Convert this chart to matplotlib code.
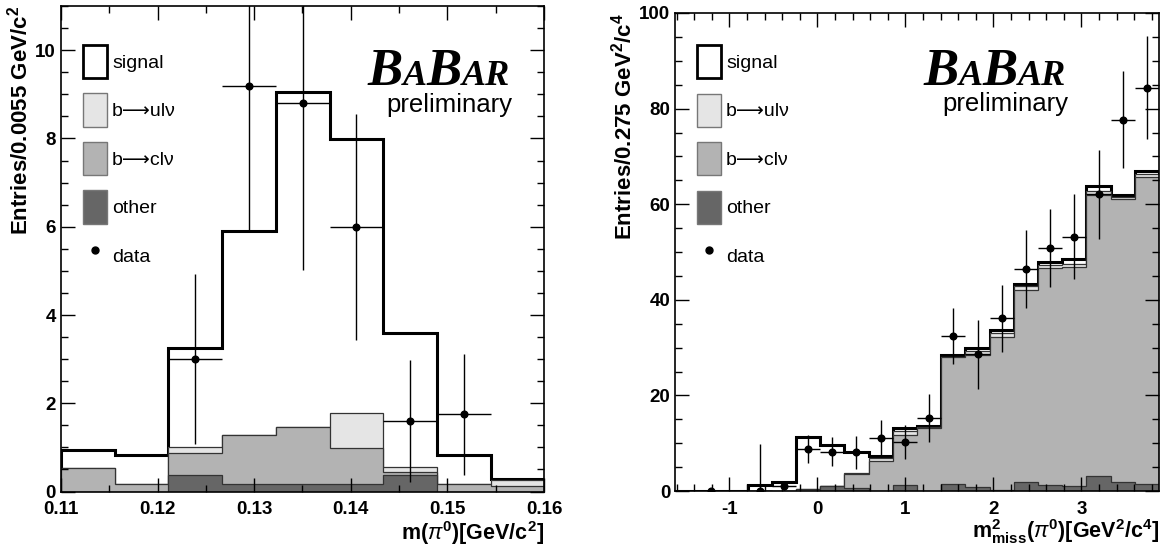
import numpy as np
import matplotlib.pyplot as plt
from matplotlib.ticker import MultipleLocator, FormatStrFormatter
from matplotlib.patches import Patch
from matplotlib.lines import Line2D
from matplotlib.offsetbox import TextArea, HPacker, AnchoredOffsetbox

plt.rcParams['font.family'] = ['Liberation Sans', 'DejaVu Sans']
plt.rcParams['mathtext.fontset'] = 'custom'
plt.rcParams['mathtext.rm'] = 'Liberation Sans'
plt.rcParams['mathtext.it'] = 'Liberation Sans:italic'
plt.rcParams['mathtext.bf'] = 'Liberation Sans:bold'
plt.rcParams['axes.unicode_minus'] = False

# left panel: m(pi0), stacked histogram tops (other < b->clv < b->ulv < signal)
left_edges = [0.11, 0.11556, 0.12112, 0.12668, 0.13224, 0.1378, 0.14336, 0.14892, 0.15448, 0.16004, 0.1656]
left_signal = [0.94, 0.83, 3.25, 5.91, 9.06, 7.99, 3.60, 0.83, 0.28, 0.28]
left_ulv = [0.54, 0.17, 1.00, 1.27, 1.46, 1.77, 0.56, 0.17, 0.27, 0.27]
left_clv = [0.54, 0.17, 0.87, 1.27, 1.46, 0.98, 0.45, 0.17, 0.13, 0.13]
left_other = [0, 0, 0.38, 0.18, 0.18, 0.18, 0.37, 0, 0, 0]
left_data_bins = [2, 3, 4, 5, 6, 7]
left_data = [3.0, 9.2, 8.8, 6.0, 1.6, 1.75]
left_err = [1.92, 3.3, 3.77, 2.56, 1.39, 1.37]

# right panel: m2_miss(pi0)
right_edges = list(np.round(-1.619 + 0.275 * np.arange(21), 3))
right_signal = [0, 0, 0, 1.25, 1.94, 11.3, 9.7, 8.1, 7.3, 13.2, 13.5, 28.4, 29.9, 33.7, 43.3, 47.9, 48.5, 63.8, 62.0, 67.0]
right_ulv = [0, 0, 0, 0, 0, 0.35, 1.1, 3.7, 7.0, 12.6, 13.3, 28.1, 29.3, 33.0, 42.8, 47.2, 47.5, 62.8, 61.5, 66.3]
right_clv = [0, 0, 0, 0, 0, 0.35, 1.1, 3.5, 6.25, 11.8, 13.1, 28.0, 28.4, 32.2, 42.0, 46.7, 46.9, 62.0, 61.0, 65.7]
right_other = [0, 0, 0, 0, 0, 0.1, 1.0, 0.7, 0, 1.2, 0, 1.5, 0.8, 0.2, 1.8, 1.2, 1.0, 3.1, 1.8, 1.5]
right_data_bins = [1, 3, 4, 5, 6, 7, 8, 9, 10, 11, 12, 13, 14, 15, 16, 17, 18, 19]
right_data = [0, 0, 1.04, 8.8, 8.2, 8.1, 11.0, 10.25, 15.3, 32.4, 28.6, 36.1, 46.4, 50.8, 53.2, 62.1, 77.7, 84.4]
right_err_lo = [0, 0, 1.0, 3.0, 3.0, 3.5, 3.9, 3.6, 5.1, 5.9, 7.2, 7.0, 8.1, 8.1, 8.9, 9.3, 10.2, 10.7]
right_err_hi = [0, 9.9, 1.0, 3.0, 3.0, 3.5, 3.9, 3.6, 5.1, 5.9, 7.2, 7.0, 8.1, 8.1, 8.9, 9.3, 10.2, 10.7]

labels = ['signal', 'b\u27f6ul\u03bd', 'b\u27f6cl\u03bd', 'other', 'data']
fills = ['white', '#e5e5e5', '#b3b3b3', '#666666']
edgec = ['black', '#333333', '#333333', '#333333']


def draw_panel(ax, edges, stack, data_bins, data, err_lo, err_hi):
    edges = np.array(edges)
    for i, vals in enumerate(stack):
        ax.stairs(vals, edges, fill=True, facecolor=fills[i], edgecolor='none')
        ax.stairs(vals, edges, color=edgec[i], lw=2.2 if i == 0 else 0.9)
    centers = 0.5 * (edges[:-1] + edges[1:])
    half = 0.5 * (edges[1:] - edges[:-1])
    b = np.array(data_bins)
    ax.errorbar(centers[b], data, yerr=[err_lo, err_hi], xerr=half[b], fmt='o',
                color='black', ms=4.8, elinewidth=1.0, capsize=0, zorder=5)
    for s in ax.spines.values():
        s.set_linewidth(1.2)
    ax.tick_params(which='both', direction='in', top=True, right=True, width=1.0,
                   labelsize=13.5)
    ax.tick_params(which='major', length=10)
    ax.tick_params(which='minor', length=5)
    ax.tick_params(axis='x', pad=7)

    handles = [Patch(facecolor=fills[0], edgecolor='black', lw=2.0)]
    handles += [Patch(facecolor=fills[i], edgecolor='#777777', lw=1.0) for i in (1, 2, 3)]
    handles.append(Line2D([], [], ls='none', marker='o', color='black', ms=5))
    return handles


def add_legend(ax, handles, x, y):
    ax.legend(handles, labels, loc='upper left', bbox_to_anchor=(x, y), frameon=False,
              fontsize=14, handlelength=1.23, handleheight=2.26, labelspacing=0.78,
              handletextpad=0.25, borderpad=0, borderaxespad=0)


def add_logo(ax, xr, yb, yp):
    big = dict(family='Liberation Serif', style='italic', weight='bold', size=38)
    small = dict(family='Liberation Serif', style='italic', weight='bold', size=26)
    box = HPacker(children=[TextArea('B', textprops=big), TextArea('A', textprops=small),
                            TextArea('B', textprops=big), TextArea('AR', textprops=small)],
                  align='baseline', pad=0, sep=0)
    ab = AnchoredOffsetbox(loc='lower right', child=box, pad=0, borderpad=0, frameon=False,
                           bbox_to_anchor=(xr, yb), bbox_transform=ax.transAxes)
    ax.add_artist(ab)
    ax.text(xr + 0.004, yp, 'preliminary', transform=ax.transAxes, ha='right',
            va='baseline', fontsize=18.5)


def bold_ticks(ax):
    for t in ax.get_xticklabels() + ax.get_yticklabels():
        t.set_fontweight('bold')


fig = plt.figure(figsize=(11.66, 5.46), dpi=100)

ax1 = fig.add_axes([0.0523, 0.0998, 0.4142, 0.889])
h = draw_panel(ax1, left_edges, [left_signal, left_ulv, left_clv, left_other],
               left_data_bins, left_data, left_err, left_err)
ax1.set_xlim(0.11, 0.16)
ax1.set_ylim(0, 11.0)
ax1.xaxis.set_major_locator(MultipleLocator(0.01))
ax1.xaxis.set_minor_locator(MultipleLocator(0.005))
ax1.xaxis.set_major_formatter(FormatStrFormatter('%.2f'))
ax1.yaxis.set_major_locator(MultipleLocator(2))
ax1.yaxis.set_minor_locator(MultipleLocator(0.5))
bold_ticks(ax1)
ax1.set_ylabel('Entries/0.0055 GeV/c$^{\\mathbf{2}}$', fontsize=16, fontweight='bold', loc='top')
ax1.yaxis.set_label_coords(-0.06, 1.0)
ax1.set_xlabel('m($\\pi^{\\mathbf{0}}$)[GeV/c$^{\\mathbf{2}}$]', fontsize=15.5, fontweight='bold', loc='right')
ax1.xaxis.set_label_coords(1.0, -0.056)
add_legend(ax1, h, 0.046, 0.92)
add_logo(ax1, 0.93, 0.815, 0.782)

ax2 = fig.add_axes([0.5789, 0.1007, 0.4151, 0.8755])
h = draw_panel(ax2, right_edges, [right_signal, right_ulv, right_clv, right_other],
               right_data_bins, right_data, right_err_lo, right_err_hi)
ax2.set_xlim(right_edges[0], right_edges[-1])
ax2.set_ylim(0, 100)
ax2.xaxis.set_major_locator(MultipleLocator(1))
ax2.xaxis.set_minor_locator(MultipleLocator(0.2))
ax2.yaxis.set_major_locator(MultipleLocator(20))
ax2.yaxis.set_minor_locator(MultipleLocator(5))
bold_ticks(ax2)
ax2.set_ylabel('Entries/0.275 GeV$^{\\mathbf{2}}$/c$^{\\mathbf{4}}$', fontsize=16, fontweight='bold', loc='top')
ax2.yaxis.set_label_coords(-0.08, 1.0)
ax2.set_xlabel('m$^{\\mathbf{2}}_{\\mathbf{miss}}$($\\pi^{\\mathbf{0}}$)[GeV$^{\\mathbf{2}}$/c$^{\\mathbf{4}}$]',
               fontsize=15.5, fontweight='bold', loc='right')
ax2.xaxis.set_label_coords(1.0, -0.054)
add_legend(ax2, h, 0.046, 0.933)
add_logo(ax2, 0.808, 0.827, 0.794)

fig.savefig('out.png', dpi=100)
